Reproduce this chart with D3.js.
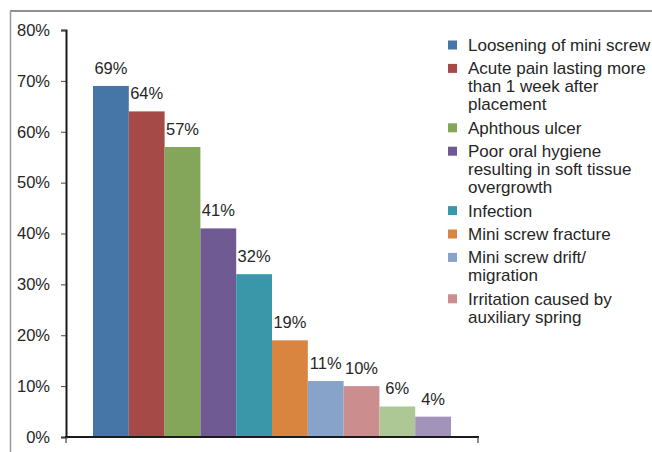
<!DOCTYPE html>
<html>
<head>
<meta charset="utf-8">
<script src="https://cdn.jsdelivr.net/npm/d3@7"></script>
<style>
  body { margin: 0; background: #fff; }
  svg { display: block; font-family: "Liberation Sans", Arial, sans-serif; }
</style>
</head>
<body>
<div id="chart"></div>
<script>
// complications and their share of patients
const categories = [
    'Loosening of mini screw',
    'Acute pain lasting more than 1 week after placement',
    'Aphthous ulcer',
    'Poor oral hygiene resulting in soft tissue overgrowth',
    'Infection',
    'Mini screw fracture',
    'Mini screw drift/ migration',
    'Irritation caused by auxiliary spring',
    'Other 1',
    'Other 2'
];
const values = [69, 64, 57, 41, 32, 19, 11, 10, 6, 4];
const colors = ['#4675a8', '#a64a48', '#84a65a', '#6f5a94', '#3a97aa',
                '#d9843f', '#87a3c9', '#cb8d8d', '#aec895', '#a193b9'];
// legend text as it wraps in the picture (only 8 entries are visible)
const legendLines = [
    ['Loosening of mini screw'],
    ['Acute pain lasting more', 'than 1 week after', 'placement'],
    ['Aphthous ulcer'],
    ['Poor oral hygiene', 'resulting in soft tissue', 'overgrowth'],
    ['Infection'],
    ['Mini screw fracture'],
    ['Mini screw drift/', 'migration'],
    ['Irritation caused by', 'auxiliary spring']
];
const yTicks = [0, 10, 20, 30, 40, 50, 60, 70, 80];

const width = 652;
const height = 452;
const plot = { left: 66, right: 478, top: 30, bottom: 437 };

const svg = d3.select('#chart')
    .append('svg')
    .attr('width', width)
    .attr('height', height);

// outer frame (top and left edges visible)
svg.append('line')
    .attr('x1', 10).attr('x2', width).attr('y1', 11).attr('y2', 11)
    .style('stroke', '#222').style('stroke-width', 1);
svg.append('line')
    .attr('x1', 10.5).attr('x2', 10.5).attr('y1', 11).attr('y2', height)
    .style('stroke', '#999').style('stroke-width', 1.5);

const yScale = d3.scaleLinear().domain([0, 80]).range([plot.bottom, plot.top]);

// one group, bars side by side
const xScale = d3.scaleBand()
    .domain(categories)
    .range([93, 451])
    .padding(0);

const yAxis = d3.axisLeft(yScale)
    .tickValues(yTicks)
    .tickFormat((d) => d + '%')
    .tickSize(5)
    .tickPadding(11);

const yg = svg.append('g')
    .attr('transform', `translate(${plot.left}, 0)`)
    .call(yAxis);
yg.select('.domain').style('stroke', '#1a1a1a').style('stroke-width', 2);
yg.selectAll('.tick line').style('stroke', '#444');
yg.selectAll('.tick text')
    .style('font-size', '16.5px')
    .style('fill', '#262626')
    .style('font-family', '"Liberation Sans", Arial, sans-serif');

// bars
svg.append('g')
    .selectAll('rect')
    .data(values)
    .join('rect')
    .attr('x', (d, i) => xScale(categories[i]))
    .attr('y', (d) => yScale(d))
    .attr('width', xScale.bandwidth())
    .attr('height', (d) => yScale(0) - yScale(d))
    .style('fill', (d, i) => colors[i]);

// value labels
svg.append('g')
    .selectAll('text')
    .data(values)
    .join('text')
    .attr('x', (d, i) => xScale(categories[i]) + xScale.bandwidth() / 2)
    .attr('y', (d) => yScale(d) - 12)
    .attr('text-anchor', 'middle')
    .style('font-size', '16.5px')
    .style('fill', '#262626')
    .text((d) => d + '%');

// x axis line with end ticks
const xg = svg.append('g');
xg.append('line')
    .attr('x1', plot.left - 1).attr('x2', plot.right + 1)
    .attr('y1', plot.bottom).attr('y2', plot.bottom)
    .style('stroke', '#1a1a1a').style('stroke-width', 2);
[plot.left, plot.right].forEach((x) => {
    xg.append('line')
        .attr('x1', x).attr('x2', x)
        .attr('y1', plot.bottom).attr('y2', plot.bottom + 6)
        .style('stroke', '#444').style('stroke-width', 1.2);
});

// legend
const lineH = 18;
const gap = 5.4;
const legend = svg.append('g').attr('transform', 'translate(448, 45)');
let yPos = 0;
legendLines.forEach((lines, i) => {
    const g = legend.append('g').attr('transform', `translate(0, ${yPos})`);
    g.append('rect')
        .attr('x', 0).attr('y', -4.5)
        .attr('width', 9).attr('height', 9)
        .style('fill', colors[i]);
    const t = g.append('text')
        .attr('x', 20)
        .attr('y', 6)
        .style('font-size', '17px')
        .style('fill', '#262626');
    lines.forEach((ln, j) => {
        t.append('tspan').attr('x', 20).attr('dy', j === 0 ? 0 : lineH).text(ln);
    });
    yPos += lines.length * lineH + gap;
});
</script>
</body>
</html>
